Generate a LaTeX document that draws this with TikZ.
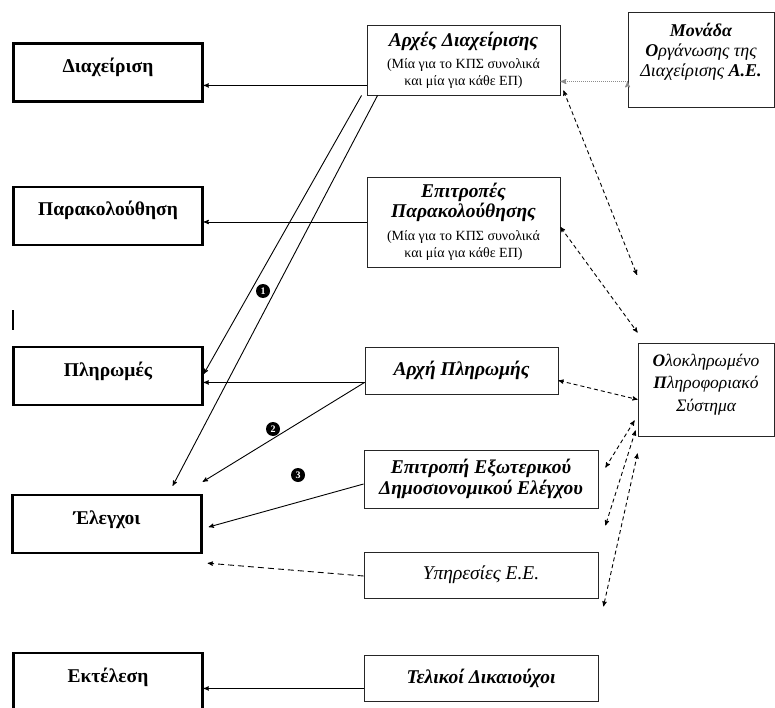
\documentclass[tikz,border=0pt]{standalone}
\usepackage{fontspec}
\setmainfont{Liberation Serif}
\usepackage{tikz}
\usetikzlibrary{arrows}
\newcommand{\pmsub}[1]{{\fontsize{14}{15}\selectfont\mdseries\upshape #1}}
\newcommand{\padbelow}[1]{\rule[-#1]{0pt}{#1}}

\begin{document}
\begin{tikzpicture}[>=stealth',x=1pt,y=-1pt,line width=0.9pt]
  \tikzstyle{left_box}=[rectangle,
                        line width=2.4pt,
                        minimum width=189pt,
                        minimum height=58pt,
                        text height=14pt,
                        text depth=14pt,
                        font=\fontsize{19.5}{21}\selectfont\bfseries,
                        draw=black]
  \tikzstyle{right_box}=[rectangle,
                        line width=0.9pt,
                        align=center,
                        inner sep=2pt,
                        font=\fontsize{19.5}{21}\selectfont\bfseries\itshape,
                        draw=black!85]
  \tikzstyle{num}=[circle,fill=black,text=white,inner sep=0pt,
                        minimum size=14pt,
                        font=\fontsize{10}{10}\selectfont\bfseries]
  \tikzstyle{dashed_link}=[<->,line width=0.9pt,dash pattern=on 4pt off 3pt]
  \tikzstyle{dotted_link}=[->,line width=1.1pt,draw=black!45,dash pattern=on 1pt off 1pt]
  \useasboundingbox (0,0) rectangle (775,708);
  %Left column
  \node[left_box] (Dia) [shift={(108,72.5)}] {Διαχείριση};
  \node[left_box] (Par) [shift={(108,216)}] {Παρακολούθηση};
  \node[left_box] (Pl)  [shift={(108,376)}] {Πληρωμές};
  \node[left_box] (El)  [shift={(107,524)}] {Έλεγχοι};
  \node[left_box] (Ek)  [shift={(108,682)}] {Εκτέλεση};
  %Middle column
  \node[right_box,minimum width=193pt,minimum height=70pt] (AD) [shift={(463.5,60)}]
    {Αρχές Διαχείρισης\\[1pt] \pmsub{(Μία για το ΚΠΣ συνολικά}\\[-4pt] \pmsub{και μία για κάθε ΕΠ)}};
  \node[right_box,minimum width=193pt,minimum height=90pt] (EP) [shift={(463.5,222)}]
    {Επιτροπές\\[-1pt] Παρακολούθησης\\[2pt] \pmsub{(Μία για το ΚΠΣ συνολικά}\\[-4pt] \pmsub{και μία για κάθε ΕΠ)}};
  \node[right_box,minimum width=193pt,minimum height=47pt] (AP) [shift={(461.5,370.5)}] {Αρχή Πληρωμής};
  \node[right_box,minimum width=234pt,minimum height=58pt] (EED) [shift={(481,479)}]
    {Επιτροπή Εξωτερικού\\ Δημοσιονομικού Ελέγχου};
  \node[right_box,minimum width=234pt,minimum height=46pt,font=\fontsize{19.5}{21}\selectfont\itshape] (YEE) [shift={(481,575)}] {Υπηρεσίες Ε.Ε.};
  \node[right_box,minimum width=234pt,minimum height=46pt] (TD) [shift={(481,678)}] {Τελικοί Δικαιούχοι};
  %Right column
  \node[right_box,minimum width=146pt,minimum height=95pt,font=\fontsize{18}{20}\selectfont\itshape] (MO) [shift={(701,59.5)}]
    {\textbf{Μονάδα}\\ \textbf{Ο}ργάνωσης της\\ Διαχείρισης \textbf{Α.Ε.}\padbelow{20pt}};
  \node[right_box,minimum width=136pt,minimum height=93pt,font=\fontsize{17.5}{22.5}\selectfont\itshape] (OPS) [shift={(706,389.5)}]
    {\textbf{Ο}λοκληρωμένο\\ \textbf{Π}ληροφοριακό\\ Σύστημα\padbelow{14pt}};
  %Numbers
  \node[num] (n1) [shift={(263,291)}] {1};
  \node[num] (n2) [shift={(273,429)}] {2};
  \node[num] (n3) [shift={(298,475)}] {3};
  %Stray mark
  \draw[line width=2.5pt] (13,310) -- (13,330);

  \coordinate (ad_out) at ([yshift=10pt]AD.south west);
  \coordinate (ap_out) at ([yshift=12pt]AP.south west);
  \coordinate (td_out) at ([yshift=13pt]TD.south west);
  \coordinate (mo_out) at ([yshift=-22pt]MO.west);
  \coordinate (ops_up) at (637,275);

  \path[->] (ad_out) edge (ad_out -| Dia.east)
        (EP.west) edge (EP.west -| Par.east)
        (ap_out) edge (ap_out -| Pl.east)
            edge ([yshift=12pt]El.north east)
        (td_out) edge (td_out -| Ek.east)
        ([xshift=-5pt]AD.south west) edge ([yshift=2pt]Pl.east)
        ([xshift=11pt]AD.south west) edge ([xshift=-30pt,yshift=8pt]El.north east)
        ([yshift=-5pt]EED.west) edge ([xshift=6pt,yshift=-3pt]El.east);
  \path[->,line width=0.9pt,dash pattern=on 6pt off 4pt]
        ([yshift=-1pt]YEE.west) edge ([xshift=5pt,yshift=-9pt]El.south east);
  \path[dotted_link] (mo_out) edge[draw=black!45] (mo_out -| AD.east);
  \path[dashed_link] ([xshift=3pt,yshift=5pt]AD.south east) edge (ops_up)
        ([yshift=-5pt]EP.east) edge ([yshift=10pt]OPS.north west)
        ([yshift=-10pt]AP.east) edge ([yshift=-10pt]OPS.west)
        ([xshift=-3pt,yshift=16pt]OPS.south west) edge ([xshift=7pt,yshift=-18pt]EED.north east)
        ([xshift=-2pt,yshift=6pt]OPS.south west) edge ([xshift=7pt,yshift=-17pt]EED.south east)
        ([yshift=-17pt]OPS.south west) edge ([xshift=5pt,yshift=-8pt]YEE.south east);
\end{tikzpicture}
\end{document}
